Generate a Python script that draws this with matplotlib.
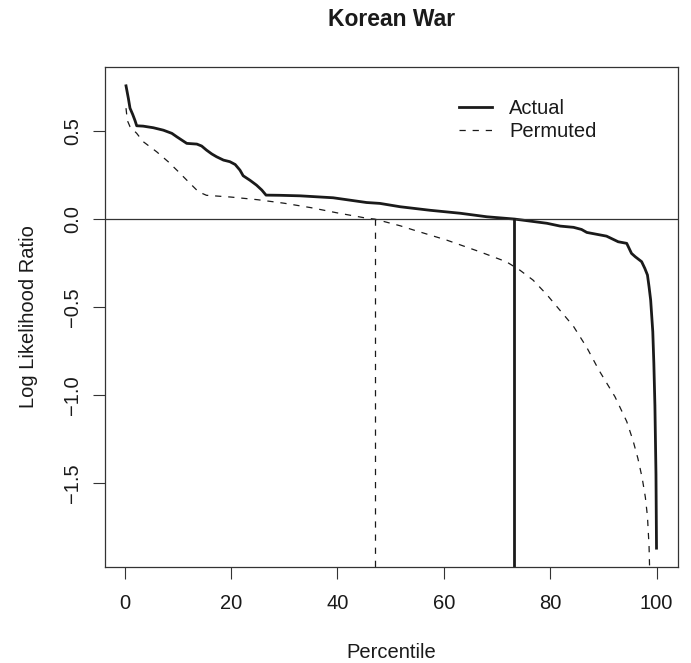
import matplotlib
matplotlib.use("Agg")
import matplotlib.pyplot as plt

plt.rcParams['font.family'] = ['Liberation Sans', 'DejaVu Sans']

# log likelihood ratio by percentile, observed ordering
actual_pct = [0.28, 0.72, 1.03, 1.53, 1.97, 2.29, 3.5, 5.4, 7.3, 8.9, 9.8, 10.75,
              11.7, 13.6, 14.5, 15.4, 16.4, 17.3, 18.6, 19.8, 20.8, 21.7, 22.3,
              23.6, 24.8, 25.8, 26.6, 29.2, 33.0, 39.2, 45.5, 48.0, 51.8, 57.4,
              63.1, 68.1, 73.3, 79.4, 81.9, 84.4, 85.9, 86.9, 90.6, 92.8, 94.4,
              95.3, 96.0, 97.2, 97.8, 98.3, 98.6, 98.9, 99.1, 99.3, 99.5, 99.7,
              99.9, 100.0]
actual_llr = [0.757, 0.686, 0.63, 0.595, 0.56, 0.53, 0.528, 0.519, 0.505, 0.487,
              0.468, 0.449, 0.43, 0.426, 0.415, 0.392, 0.37, 0.354, 0.335, 0.326,
              0.31, 0.278, 0.246, 0.22, 0.193, 0.165, 0.136, 0.135, 0.132, 0.121,
              0.094, 0.089, 0.07, 0.05, 0.033, 0.013, 0.0, -0.024, -0.04, -0.047,
              -0.059, -0.076, -0.097, -0.129, -0.138, -0.195, -0.214, -0.242,
              -0.28, -0.318, -0.385, -0.46, -0.55, -0.64, -0.82, -1.06, -1.45,
              -1.87]

# same statistic after permuting the labels
perm_pct = [0.28, 0.53, 1.03, 2.29, 3.5, 6.05, 8.2, 10.1, 12.0, 13.9, 15.4, 20.0,
            25.0, 30.0, 35.0, 40.0, 45.5, 47.0, 51.8, 54.3, 60.6, 66.8, 71.8,
            74.3, 76.8, 79.4, 81.9, 84.4, 86.9, 89.2, 92.2, 94.4, 95.6, 96.5,
            97.3, 97.9, 98.3, 98.6, 98.8]
perm_llr = [0.63, 0.56, 0.525, 0.487, 0.44, 0.382, 0.326, 0.27, 0.212, 0.155,
            0.135, 0.125, 0.11, 0.09, 0.065, 0.035, 0.005, 0.0, -0.038, -0.062,
            -0.12, -0.186, -0.243, -0.29, -0.347, -0.43, -0.52, -0.61, -0.73,
            -0.86, -1.01, -1.15, -1.26, -1.36, -1.47, -1.58, -1.69, -1.86, -2.1]

cross_actual = 73.3
cross_perm = 47.0

xticks = [0, 20, 40, 60, 80, 100]
yticks = [-1.5, -1.0, -0.5, 0.0, 0.5]
yticklabels = ['\u22121.5', '\u22121.0', '\u22120.5', '0.0', '0.5']

ink = '#1a1a1a'
dash = (0, (5, 5.5))
fs = 14.5

fig = plt.figure(figsize=(6.91, 6.63), dpi=100)
ax = fig.add_axes([105 / 691, 96 / 663, 573 / 691, 500 / 663])

ax.plot(actual_pct, actual_llr, color=ink, lw=2.0, label='Actual',
        solid_joinstyle='round')
ax.plot(perm_pct, perm_llr, color=ink, lw=0.9, linestyle=dash, label='Permuted')
ax.axhline(0, color='#333333', lw=0.9)
ax.plot([cross_actual, cross_actual], [0, -5], color=ink, lw=2.0)
ax.plot([cross_perm, cross_perm], [0, -5], color=ink, lw=0.9, linestyle=dash)

ax.set_xlim(-3.67, 104.04)
ax.set_ylim(-1.977, 0.864)

ax.set_xticks(xticks)
ax.set_xticklabels([str(t) for t in xticks])
ax.set_yticks(yticks)
ax.set_yticklabels(yticklabels, rotation=90, va='center')
ax.tick_params(direction='out', length=8.6, width=0.8, color='#333333',
               labelsize=fs, labelcolor=ink)
ax.tick_params(axis='x', pad=11)
ax.tick_params(axis='y', pad=8)
for s in ax.spines.values():
    s.set_color('#333333')
    s.set_linewidth(0.9)

leg = ax.legend(loc='upper left', bbox_to_anchor=(0.6178, 0.936),
                frameon=False, fontsize=fs, handlelength=1.64,
                handletextpad=0.85, borderpad=0, borderaxespad=0,
                labelspacing=0.2)
for t in leg.get_texts():
    t.set_color(ink)

fig.text(391.5 / 691, 1 - 20 / 663, 'Korean War', ha='center', va='center',
         fontsize=16.5, fontweight='bold', color=ink)
fig.text(391.5 / 691, 1 - 652 / 663, 'Percentile', ha='center', va='center',
         fontsize=fs, color=ink)
fig.text(29 / 691, 1 - 317 / 663, 'Log Likelihood Ratio', ha='center',
         va='center', rotation=90, fontsize=fs, color=ink)

fig.savefig('out.png', dpi=100)
